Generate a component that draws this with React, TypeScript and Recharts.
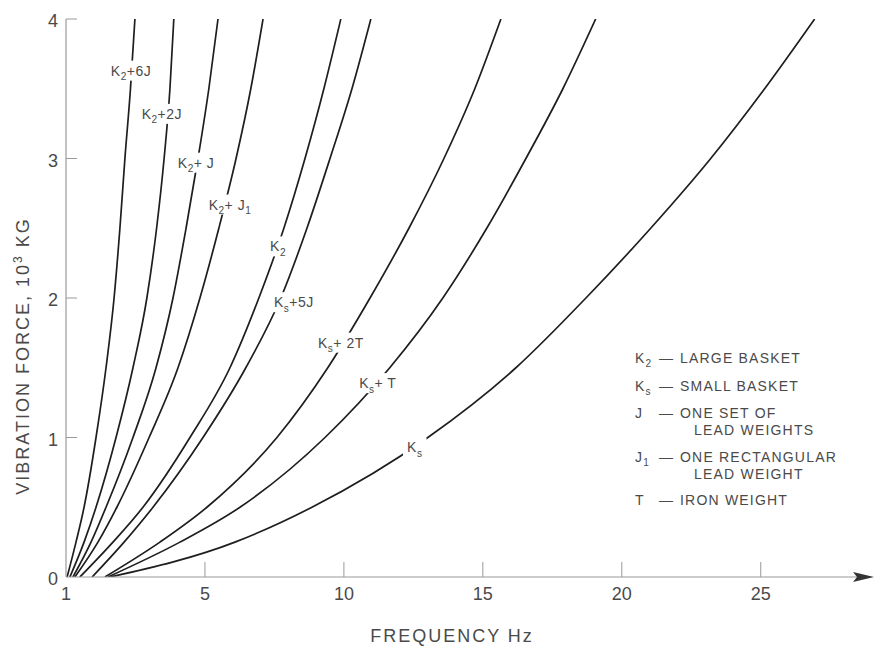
import { LineChart, Line, XAxis, YAxis, ReferenceDot } from 'recharts';

// force levels (10^3 kg) at which each curve was read
const forceLevels = [0, 0.25, 0.5, 1, 1.5, 2, 2.5, 3, 3.5, 4];

// frequency (Hz) of each curve at the force levels above
const k2Plus6J = [0.04, 0.36, 0.65, 1.08, 1.44, 1.73, 1.94, 2.12, 2.32, 2.48];
const k2Plus2J = [0.14, 0.65, 1.08, 1.8, 2.41, 2.91, 3.26, 3.53, 3.74, 3.88];
const k2PlusJ = [0.25, 0.9, 1.44, 2.41, 3.24, 3.85, 4.32, 4.75, 5.14, 5.47];
const k2PlusJ1 = [0.32, 1.15, 1.83, 2.99, 4.03, 4.82, 5.5, 6.12, 6.65, 7.09];
const k2 = [0.5, 1.69, 2.77, 4.46, 5.9, 6.94, 7.84, 8.6, 9.28, 9.89];
const ksPlus5J = [0.94, 2.09, 3.13, 4.93, 6.47, 7.73, 8.67, 9.5, 10.29, 10.97];
const ksPlus2T = [1.4, 3.38, 5.07, 7.59, 9.42, 10.94, 12.34, 13.6, 14.71, 15.65];
const ksPlusT = [1.51, 4.1, 6.26, 9.32, 11.65, 13.56, 15.14, 16.55, 17.88, 19.06];
const ks = [1.58, 6.08, 8.85, 13.02, 16.19, 18.71, 21.04, 23.2, 25.14, 26.94];

const curveFreqs = [k2Plus6J, k2Plus2J, k2PlusJ, k2PlusJ1, k2, ksPlus5J, ksPlus2T, ksPlusT, ks];
// "_x" marks a subscript
const curveNames = ['K_2+6J', 'K_2+2J', 'K_2+ J', 'K_2+ J_1', 'K_2', 'K_s+5J', 'K_s+ 2T', 'K_s+ T', 'K_s'];
const labelFreq = [2.34, 3.45, 4.68, 5.9, 7.63, 8.2, 9.89, 11.22, 12.55];
const labelForce = [3.63, 3.32, 2.97, 2.67, 2.37, 1.97, 1.68, 1.39, 0.93];

const xTicks = [0, 5, 10, 15, 20, 25];
const xTickLabels = ['1', '5', '10', '15', '20', '25'];
const yTicks = [0, 1, 2, 3, 4];

const legendKeys = ['K_2', 'K_s', 'J', 'J_1', 'T'];
const legendText = ['LARGE BASKET', 'SMALL BASKET', 'ONE SET OF', 'ONE RECTANGULAR', 'IRON WEIGHT'];
const legendCont = ['', '', 'LEAD WEIGHTS', 'LEAD WEIGHT', ''];

const FONT = '"Liberation Sans", Arial, sans-serif';
const INK = '#4a4a4a';
const AXIS = '#9a9a9a';

const curves = curveFreqs.map((freqs) => forceLevels.map((y, i) => ({ f: freqs[i], y })));

function Rich({ text, size }: { text: string; size: number }) {
  const parts = text.split(/_(.)/);
  const off = size * 0.32;
  return (
    <>
      {parts.map((p, i) =>
        i % 2 === 1 ? (
          <tspan key={i} fontSize={size * 0.72} dy={off}>{p}</tspan>
        ) : (
          <tspan key={i} dy={i > 0 ? -off : 0}>{p}</tspan>
        )
      )}
    </>
  );
}

function labelWidth(text: string) {
  const parts = text.split(/_(.)/);
  let w = 0;
  parts.forEach((p, i) => (w += p.length * (i % 2 ? 6 : 9.5)));
  return w + 8;
}

const CurveLabel = ({ cx, cy, text }: any) => {
  const w = labelWidth(text);
  return (
    <g>
      <rect x={cx - w / 2} y={cy - 10} width={w} height={20} fill="#fff" />
      <text x={cx} y={cy + 5} textAnchor="middle" fontSize={14} fill={INK} fontFamily={FONT} letterSpacing={0.5}>
        <Rich text={text} size={14} />
      </text>
    </g>
  );
};

const ArrowHead = ({ cx, cy }: any) => (
  <polygon points={`${cx - 5},${cy - 5} ${cx + 16},${cy} ${cx - 5},${cy + 5} ${cx - 1},${cy}`} fill="#333" />
);

const XTick = ({ x, y, payload }: any) => {
  const i = xTicks.indexOf(payload.value);
  return (
    <g>
      {i > 0 && <line x1={x} x2={x} y1={y} y2={y - 15} stroke={AXIS} strokeWidth={1} />}
      <text x={x} y={y + 23} textAnchor="middle" fontSize={18} fill={INK} fontFamily={FONT}>
        {xTickLabels[i]}
      </text>
    </g>
  );
};

const YTick = ({ x, y, payload }: any) => (
  <g>
    {payload.value > 0 && <line x1={x} x2={x + 11} y1={y} y2={y} stroke={AXIS} strokeWidth={1} />}
    <text x={x - 8} y={y + 8} textAnchor="end" fontSize={18} fill={INK} fontFamily={FONT}>
      {payload.value}
    </text>
  </g>
);

export default function App() {
  return (
    <div style={{ position: 'absolute', left: 0, top: 0, width: 876, height: 652, background: '#fff' }}>
      <LineChart width={876} height={652} margin={{ top: 19, right: 18, bottom: 35, left: 0 }}>
        <XAxis
          dataKey="f"
          type="number"
          domain={[0, 28.5]}
          ticks={xTicks}
          interval={0}
          tickSize={0}
          tickMargin={0}
          tickLine={false}
          tick={(p: any) => <XTick {...p} />}
          axisLine={{ stroke: AXIS, strokeWidth: 1.2 }}
          height={40}
          allowDataOverflow
        />
        <YAxis
          type="number"
          domain={[0, 4]}
          ticks={yTicks}
          interval={0}
          tickSize={0}
          tickMargin={0}
          tickLine={false}
          tick={(p: any) => <YTick {...p} />}
          axisLine={{ stroke: AXIS, strokeWidth: 1.2 }}
          width={66}
          allowDataOverflow
        />
        {curves.map((d, i) => (
          <Line
            key={curveNames[i]}
            data={d}
            dataKey="y"
            type="monotone"
            dot={false}
            stroke="#1e1e1e"
            strokeWidth={1.7}
            isAnimationActive={false}
          />
        ))}
        {curveNames.map((name, i) => (
          <ReferenceDot
            key={'lab' + name}
            x={labelFreq[i]}
            y={labelForce[i]}
            r={0}
            ifOverflow="visible"
            shape={(p: any) => <CurveLabel cx={p.cx} cy={p.cy} text={name} />}
          />
        ))}
        <ReferenceDot x={28.5} y={0} r={0} ifOverflow="visible" shape={(p: any) => <ArrowHead cx={p.cx} cy={p.cy} />} />
      </LineChart>
      <svg width={876} height={652} style={{ position: 'absolute', left: 0, top: 0, pointerEvents: 'none' }}>
        <text
          transform="translate(29,356) rotate(-90)"
          textAnchor="middle"
          fontSize={18}
          fill={INK}
          fontFamily={FONT}
          letterSpacing={2}
        >
          VIBRATION FORCE, 10<tspan fontSize={12} dy={-7}>3</tspan>
          <tspan dy={7}> KG</tspan>
        </text>
        <text x={452} y={642} textAnchor="middle" fontSize={18} fill={INK} fontFamily={FONT} letterSpacing={2}>
          FREQUENCY  Hz
        </text>
        {legendKeys.map((k, i) => {
          const rowY = [363, 391, 418, 462, 505][i];
          return (
            <g key={k} fontSize={14} fill={INK} fontFamily={FONT} letterSpacing={1.2}>
              <text x={635} y={rowY}>
                <Rich text={k} size={14} />
              </text>
              <text x={659} y={rowY}>—</text>
              <text x={680} y={rowY}>{legendText[i]}</text>
              {legendCont[i] && (
                <text x={694} y={rowY + 17}>{legendCont[i]}</text>
              )}
            </g>
          );
        })}
      </svg>
    </div>
  );
}
